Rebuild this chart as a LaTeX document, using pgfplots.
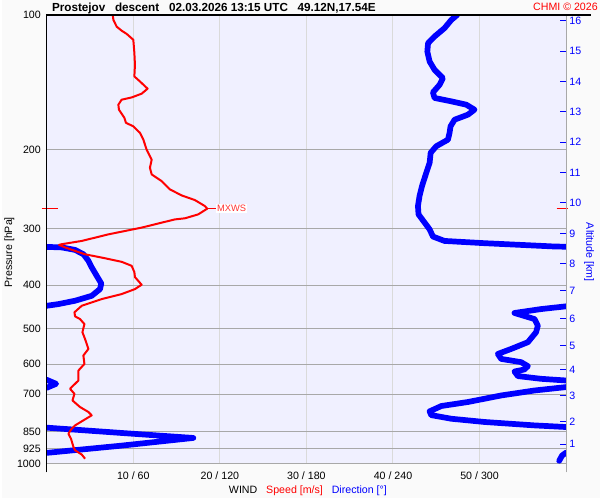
\documentclass[border=0pt]{standalone}
\usepackage{pgfplots}
\pgfplotsset{compat=1.18}
\usepackage{fontspec}
\setmainfont{Liberation Sans}
\definecolor{plotbg}{RGB}{240,240,255}
\definecolor{pagebg}{RGB}{250,250,250}
\definecolor{hgrid}{RGB}{168,168,168}
\definecolor{vgrid}{RGB}{218,218,218}
\definecolor{wblue}{RGB}{0,0,255}
\definecolor{wred}{RGB}{255,0,0}

% wind speed profile [m/s] vs pressure [hPa]
\pgfplotstableread{
s p
7.62 100
7.70 102.6
8.08 106.2
8.65 108.4
9.23 110.2
10.00 113.6
10.12 121.4
10.19 129.2
10.12 137.1
10.77 140.7
11.65 146.0
10.96 149.8
9.81 152.7
8.65 154.5
8.27 158.5
8.34 162.6
8.97 169.6
9.15 174.0
10.00 177.1
10.77 183.2
11.16 189.7
11.54 199.7
12.12 210.2
11.92 219.1
12.12 226.7
13.27 234.6
14.23 244.8
15.58 252.5
17.11 258.6
18.27 266.7
18.54 270.3
17.50 278.3
15.96 284.0
14.80 285.6
10.96 297.9
7.12 308.4
4.04 319.0
1.73 324.4
1.42 325.5
2.11 329.8
4.38 341.5
6.69 348.5
8.65 355.1
9.81 362.5
10.12 374.4
10.19 384.1
10.96 399.5
10.19 408.4
8.65 419.0
6.35 429.9
4.04 444.9
3.20 460.1
3.27 469.7
3.84 476.3
4.35 488.7
4.12 509.6
4.42 527.5
4.81 555.3
4.23 574.4
4.35 599.6
3.66 620.4
3.66 653.0
2.88 675.4
2.69 681.5
3.20 699.2
2.97 723.4
3.84 748.2
4.81 767.6
5.19 781.1
4.42 797.2
3.27 822.2
2.88 836.4
2.50 858.1
2.80 880.4
3.08 918.2
3.27 934.2
4.04 955.0
4.42 975.4
}\speed

\begin{document}
\begin{tikzpicture}
\begin{scope}[x=0.75pt,y=0.75pt]
\fill[pagebg] (-45,-35) rectangle (555,465);
\end{scope}

% direction axis (background, grid, labels)
\begin{axis}[
  scale only axis, width=390.75pt, height=337.5pt,
  xmin=0, xmax=360, ymode=log, ymin=100, ymax=1000, y dir=reverse,
  axis line style={draw=none},
  axis background/.style={fill=plotbg},
  xtick={60,120,180,240,300},
  xticklabels={10 / 60, 20 / 120, 30 / 180, 40 / 240, 50 / 300},
  ytick={100,200,300,400,500,600,700,850,925,1000},
  yticklabels={100,200,300,400,500,600,700,850,925,1000},
  yminorticks=false, xminorticks=false,
  xmajorgrids, ymajorgrids,
  x grid style={vgrid, line width=0.75pt},
  y grid style={hgrid, line width=0.75pt},
  major tick length=0pt,
  tick label style={font=\fontsize{8}{9}\selectfont, /pgf/number format/assume math mode=true},
  xticklabel style={yshift=-3pt},
  yticklabel style={xshift=-1pt},
  dirline/.style={wblue, line width=4.3pt, line join=round, line cap=round, mark=none},
]
\addplot[dirline] coordinates {(284.5,100) (280.4,102.6) (275.7,107.0) (268.8,111.7) (264.3,115.6) (263.8,120.7) (265.4,127.0) (268.8,132.5) (274.6,138.3) (272.3,143.1) (267.7,148.8) (268.8,153.1) (280.4,155.8) (290.8,158.5) (296.5,162.6) (292.0,166.8) (282.7,171.2) (279.9,177.1) (279.2,183.2) (278.1,189.7) (270.0,196.2) (266.1,202.9) (265.4,213.6) (263.1,224.7) (260.1,240.7) (258.4,253.3) (257.3,266.7) (257.7,278.3) (261.9,290.3) (265.4,300.6) (267.7,311.9) (275.7,319.0) (303.4,322.7) (333.5,326.1) (352.4,328.3) (360,328.6)};
\addplot[dirline] coordinates {(0,328.9) (10.4,329.8) (19.6,334.0) (25.4,341.5) (28.9,353.3) (31.2,365.5) (34.6,381.5) (37.8,397) (36.9,408.4) (31.2,422.7) (19.6,433.6) (8.1,441.1) (0,444.9)};
\addplot[dirline] coordinates {(360,446.2) (342.7,452.5) (324.2,461.7) (338.1,476.3) (340.4,492.8) (339.2,509.6) (333.5,536.4) (321.9,555.3) (312.7,569.7) (315.0,584.5) (328.8,594.3) (333.5,606.5) (331.1,617.1) (324.2,623.5) (326.6,638.4) (342.7,647.4) (360,653.0)};
\addplot[dirline] coordinates {(0,650.7) (6.5,664.2) (0,677.8)};
\addplot[dirline] coordinates {(360,675.4) (338.1,687.3) (315.0,705.1) (291.9,729.3) (273.5,744.4) (265.4,765) (266.5,780) (280.4,794.7) (303.4,807.9) (338.1,822.2) (358.8,828.7) (360,829)};
\addplot[dirline] coordinates {(0,831.8) (50.8,854.3) (101.6,876.9) (50.8,912.9) (0,946.7)};
\addplot[dirline] coordinates {(360,945.3) (357.2,959.8) (355.2,986.2)};
\end{axis}

% speed axis with altitude ticks on the right
\begin{axis}[
  scale only axis, width=390.75pt, height=337.5pt,
  xmin=0, xmax=60, ymode=log, ymin=100, ymax=1000, y dir=reverse,
  axis line style={draw=none}, clip=false,
  xtick=\empty,
  ytick pos=right, yticklabel pos=right,
  ytick={102.9,120.5,141,164.5,192,225,262,307,359,412,475,546,618,706,806,906},
  yticklabels={16,15,14,13,12,11,10,9,8,7,6,5,4,3,2,1},
  yminorticks=false,
  tick align=inside, major tick length=4.5pt,
  y tick style={wblue, line width=0.75pt},
  yticklabel style={wblue, font=\fontsize{8}{9}\selectfont, /pgf/number format/assume math mode=true, xshift=-1pt},
]
\addplot[wred, line width=1.5pt, line join=round, mark=none] table[x=s, y=p] {\speed};
\draw[wred, line width=0.75pt] (axis cs:-0.6,270.3) -- (axis cs:1.3,270.3);
\draw[wred, line width=0.75pt] (axis cs:58.9,270.3) -- (axis cs:60.2,270.3);
\draw[wred, line width=0.75pt] (axis cs:18.6,270.3) -- (axis cs:19.5,270.3)
  node[right, fill=white, inner sep=0.8pt, text=wred!80!white, font=\fontsize{7}{8}\selectfont] {MXWS};
\end{axis}

\begin{scope}[x=0.75pt,y=0.75pt]
\draw[hgrid, line width=0.75pt] (521,-9) -- (521,450);
\draw[black, line width=0.9pt] (0,-9) -- (0,450) -- (546,450);
\node[anchor=base west, inner sep=0, font=\bfseries\fontsize{8.8}{11}\selectfont] at (5,453)
  {Prostejov\ \ \ descent\ \ \ 02.03.2026 13:15 UTC\ \ \ 49.12N,17.54E};
\node[anchor=base east, inner sep=0, text=wred, font=\fontsize{8}{9}\selectfont] at (553,454) {CHMI © 2026};
\node[rotate=90, font=\fontsize{8}{9}\selectfont] at (-37.5,212) {Pressure [hPa]};
\node[rotate=-90, text=wblue, font=\fontsize{8}{9}\selectfont] at (544,212) {Altitude [km]};
\node[font=\fontsize{8}{9}\selectfont] at (262,-27) {WIND\ \ \ \textcolor{wred}{Speed [m/s]}\ \ \ \textcolor{wblue}{Direction [°]}};
\end{scope}
\end{tikzpicture}
\end{document}
